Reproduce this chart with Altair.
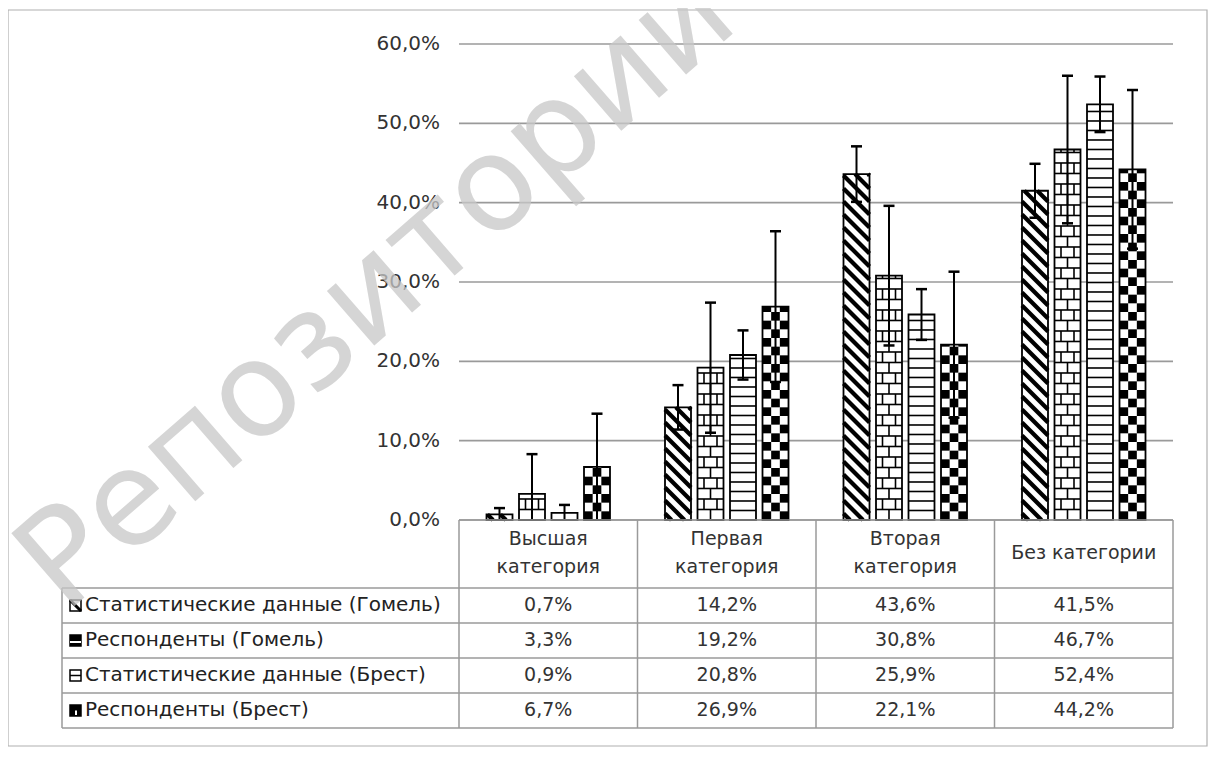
import altair as alt
import pandas as pd
import numpy as np

# ---------------- data ----------------
categories = ["Высшая категория", "Первая категория", "Вторая категория", "Без категории"]
header_labels = [["Высшая", "категория"], ["Первая", "категория"],
                 ["Вторая", "категория"], ["Без категории"]]
series_names = ["Статистические данные (Гомель)", "Респонденты (Гомель)",
                "Статистические данные (Брест)", "Респонденты (Брест)"]
stat_gomel = [0.7, 14.2, 43.6, 41.5]
resp_gomel = [3.3, 19.2, 30.8, 46.7]
stat_brest = [0.9, 20.8, 25.9, 52.4]
resp_brest = [6.7, 26.9, 22.1, 44.2]
err_stat_gomel = [0.8, 2.8, 3.5, 3.4]
err_resp_gomel = [5.0, 8.2, 8.8, 9.3]
err_stat_brest = [1.0, 3.1, 3.2, 3.5]
err_resp_brest = [6.7, 9.5, 9.2, 10.0]
y_ticks = [0, 10, 20, 30, 40, 50, 60]
watermark = "Репозиторий"

values = [stat_gomel, resp_gomel, stat_brest, resp_brest]
errors = [err_stat_gomel, err_resp_gomel, err_stat_brest, err_resp_brest]

# ---------------- layout (pixels -> scale units) ----------------
PX_X = 178.5   # pixels per category column
PX_Y = 7.933   # pixels per percent


def ux(px):
    return px / PX_X


def uy(px):
    return px / PX_Y


LEGEND_W = ux(397)
X_MIN, X_MAX = -LEGEND_W, 4.0
HEADER_H = uy(68)
ROW_H = uy(35)
Y_MIN, Y_MAX = -(HEADER_H + 4 * ROW_H), 60.0
BAR_W = ux(26)
BAR_STEP = ux(32.5)
CAP_W = ux(11)
FONT = "DejaVu Sans"
FS = 19
GRID_C = "#9a9a9a"
TXT_C = "#333333"

xs = alt.Scale(domain=[X_MIN, X_MAX], nice=False, zero=False)
ys = alt.Scale(domain=[Y_MIN, Y_MAX], nice=False, zero=False)


def enc(ch):
    e = {"x": alt.X("x:Q", scale=xs, axis=None),
         "y": alt.Y("y:Q", scale=ys, axis=None)}
    if "x2" in ch:
        e["x2"] = "x2:Q"
    if "y2" in ch:
        e["y2"] = "y2:Q"
    return e


# ---------------- bars ----------------
bar_rows = []
for c in range(4):
    for s in range(4):
        center = c + 0.5 + (s - 1.5) * BAR_STEP
        bar_rows.append(dict(c=c, s=s, center=center, x=center - BAR_W / 2,
                             x2=center + BAR_W / 2, y=0.0, y2=values[s][c],
                             err=errors[s][c]))
bars = pd.DataFrame(bar_rows)

# pattern fills: series 1 diagonal stripes, series 2 bricks,
# series 3 horizontal lines, series 4 checkerboard
hlines, vlines, checks, diags = [], [], [], []
for _, b in bars.iterrows():
    v, x0, x1 = b.y2, b.x, b.x2
    w = x1 - x0
    if b.s == 2:
        step = uy(9.5)
        for k in np.arange(step, v - uy(2), step):
            hlines.append(dict(x=x0, x2=x1, y=k))
    elif b.s == 1:
        step = uy(10.5)
        j = 0
        for k in np.arange(0, v, step):
            top = min(k + step, v)
            if k > 0:
                hlines.append(dict(x=x0, x2=x1, y=k))
            xs_v = [x0 + w / 2] if j % 2 == 0 else [x0 + w / 4, x0 + 3 * w / 4]
            for xv in xs_v:
                vlines.append(dict(x=xv, y=k, y2=top))
            j += 1
    elif b.s == 3:
        cw = w / 3
        rh = uy(26 / 3)
        r = 0
        for k in np.arange(0, v, rh):
            top = min(k + rh, v)
            for cc in range(3):
                if (r + cc) % 2 == 0:
                    checks.append(dict(x=x0 + cc * cw, x2=x0 + (cc + 1) * cw, y=k, y2=top))
            r += 1
    elif b.s == 0:
        step = uy(13)
        drop = uy(26)
        for y0 in np.arange(step / 2, v + drop, step):
            t0 = max(0.0, (y0 - v) / drop)
            t1 = min(1.0, y0 / drop)
            if t1 > t0:
                diags.append(dict(x=x0 + t0 * w, y=y0 - t0 * drop,
                                  x2=x0 + t1 * w, y2=y0 - t1 * drop))

hlines = pd.DataFrame(hlines)
vlines = pd.DataFrame(vlines)
checks = pd.DataFrame(checks)
diags = pd.DataFrame(diags)

# error bars
err_v, err_c = [], []
for _, b in bars.iterrows():
    lo = max(0.0, b.y2 - b.err)
    hi = b.y2 + b.err
    err_v.append(dict(x=b.center, y=lo, y2=hi))
    err_c.append(dict(x=b.center - CAP_W / 2, x2=b.center + CAP_W / 2, y=hi))
    if b.y2 - b.err > 0:
        err_c.append(dict(x=b.center - CAP_W / 2, x2=b.center + CAP_W / 2, y=lo))
err_v = pd.DataFrame(err_v)
err_c = pd.DataFrame(err_c)

# gridlines and y tick labels
grid = pd.DataFrame(dict(x=[0.0] * len(y_ticks), x2=[X_MAX] * len(y_ticks),
                         y=[float(t) for t in y_ticks]))
ytl = pd.DataFrame(dict(x=[-ux(19)] * len(y_ticks), y=[float(t) for t in y_ticks],
                        t=[("%.1f%%" % t).replace(".", ",") for t in y_ticks]))

# table lines
t_h = [dict(x=0.0, x2=X_MAX, y=0.0)]
for k in range(5):
    t_h.append(dict(x=X_MIN, x2=X_MAX, y=-HEADER_H - k * ROW_H))
t_v = [dict(x=float(c), y=0.0, y2=Y_MIN) for c in range(5)]
t_v.append(dict(x=X_MIN, y=-HEADER_H, y2=Y_MIN))
t_h = pd.DataFrame(t_h)
t_v = pd.DataFrame(t_v)

# table text
LINE_H = uy(28)
head_rows = []
for c, lines in enumerate(header_labels):
    n = len(lines)
    for i, ln in enumerate(lines):
        head_rows.append(dict(x=c + 0.5,
                              y=-HEADER_H / 2 + uy(1) + ((n - 1) / 2 - i) * LINE_H, t=ln))
head_txt = pd.DataFrame(head_rows)
row_lbl, cell_txt = [], []
for r in range(4):
    yc = -HEADER_H - (r + 0.5) * ROW_H
    row_lbl.append(dict(x=X_MIN + ux(23), y=yc, t=series_names[r]))
    for c in range(4):
        cell_txt.append(dict(x=c + 0.5, y=yc,
                             t=("%.1f%%" % values[r][c]).replace(".", ",")))
row_lbl = pd.DataFrame(row_lbl)
cell_txt = pd.DataFrame(cell_txt)

# legend keys
keys, key_lines = [], []
for r in range(4):
    yc = -HEADER_H - (r + 0.5) * ROW_H
    kx0, kx1 = X_MIN + ux(8), X_MIN + ux(19)
    ky0, ky1 = yc - uy(5.5), yc + uy(5.5)
    keys.append(dict(x=kx0, x2=kx1, y=ky0, y2=ky1, f="white" if r in (0, 2) else "black"))
    if r == 0:
        key_lines.append(dict(x=kx0, x2=kx1, y=ky1, y2=ky0, col="black", sw=3))
    elif r == 1:
        key_lines.append(dict(x=kx0, x2=kx1, y=yc - uy(1.5), y2=yc - uy(1.5), col="white", sw=2))
    elif r == 2:
        key_lines.append(dict(x=kx0, x2=kx1, y=yc, y2=yc, col="black", sw=1.5))
    else:
        key_lines.append(dict(x=kx0 + ux(6), x2=kx0 + ux(6), y=ky0 + uy(1), y2=yc, col="white", sw=2))
keys = pd.DataFrame(keys)
key_lines = pd.DataFrame(key_lines)

# outer frame + watermark
frame = pd.DataFrame([dict(x=X_MIN - ux(54), x2=X_MAX + ux(34), y=Y_MAX + uy(34), y2=Y_MIN - uy(18))])
wm = pd.DataFrame([dict(x=X_MIN + ux(315), y=uy(520 - 290), t=watermark)])

# ---------------- layers ----------------
layers = [
    alt.Chart(frame).mark_rect(fill=None, stroke="#b0b0b0", strokeWidth=1.2).encode(**enc("x2y2")),
    alt.Chart(grid).mark_rule(color=GRID_C, strokeWidth=1.6).encode(**enc("x2")),
    alt.Chart(ytl).mark_text(font=FONT, fontSize=FS + 1, color=TXT_C, align="right",
                             baseline="middle").encode(text="t:N", **enc("")),
    alt.Chart(bars).mark_rect(fill="white", stroke=None).encode(**enc("x2y2")),
    alt.Chart(hlines).mark_rule(color="black", strokeWidth=1.6).encode(**enc("x2")),
    alt.Chart(vlines).mark_rule(color="black", strokeWidth=1.6).encode(**enc("y2")),
    alt.Chart(checks).mark_rect(color="black").encode(**enc("x2y2")),
    alt.Chart(diags).mark_rule(color="black", strokeWidth=4.2).encode(**enc("x2y2")),
    alt.Chart(bars).mark_rect(fill="white", fillOpacity=0, stroke="black", strokeWidth=1.8).encode(**enc("x2y2")),
    alt.Chart(err_v).mark_rule(color="black", strokeWidth=2).encode(**enc("y2")),
    alt.Chart(err_c).mark_rule(color="black", strokeWidth=2.5).encode(**enc("x2")),
    alt.Chart(t_h).mark_rule(color=GRID_C, strokeWidth=1.5).encode(**enc("x2")),
    alt.Chart(t_v).mark_rule(color=GRID_C, strokeWidth=1.5).encode(**enc("y2")),
    alt.Chart(head_txt).mark_text(font=FONT, fontSize=FS, color=TXT_C, align="center",
                                  baseline="middle").encode(text="t:N", **enc("")),
    alt.Chart(row_lbl).mark_text(font=FONT, fontSize=FS + 1, color="#222222", align="left",
                                 baseline="middle").encode(text="t:N", **enc("")),
    alt.Chart(cell_txt).mark_text(font=FONT, fontSize=FS, color=TXT_C, align="center",
                                  baseline="middle").encode(text="t:N", **enc("")),
    alt.Chart(keys).mark_rect(stroke="black", strokeWidth=1.5).encode(
        fill=alt.Fill("f:N", scale=None), **enc("x2y2")),
    alt.Chart(key_lines).mark_rule().encode(
        color=alt.Color("col:N", scale=None), strokeWidth=alt.StrokeWidth("sw:Q", scale=None),
        **enc("x2y2")),
    alt.Chart(wm).mark_text(font="DejaVu Sans", fontSize=132, color="#c8c8c8", opacity=0.75,
                            angle=319, align="center", baseline="middle").encode(
        text="t:N", **enc("")),
]

chart = alt.layer(*layers).properties(
    width=round((X_MAX - X_MIN) * PX_X),
    height=round((Y_MAX - Y_MIN) * PX_Y),
    padding={"left": 54, "top": 36, "right": 36, "bottom": 20},
    autosize=alt.AutoSizeParams(type="none"),
    background="white",
).configure_view(stroke=None)

chart.save("out.html", embed_options={"renderer": "svg", "actions": False})
